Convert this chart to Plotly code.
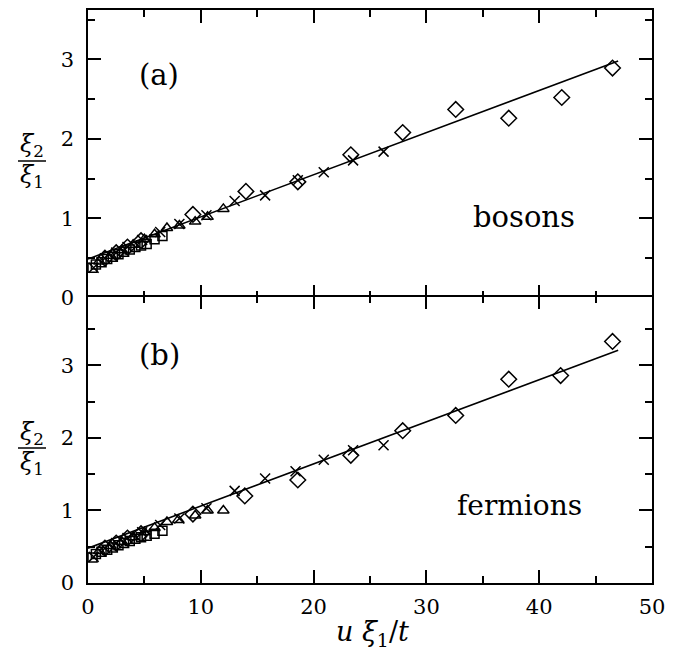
import plotly.graph_objects as go
from plotly.subplots import make_subplots

# ---------------- data: panel (a) bosons ----------------
a_sq_x = [0.4, 0.7, 1.2, 1.7, 2.2, 2.7, 3.2, 3.7, 4.2, 4.7, 5.2, 5.9, 6.6]
a_sq_y = [0.38, 0.42, 0.45, 0.49, 0.52, 0.55, 0.58, 0.61, 0.64, 0.66, 0.68, 0.74, 0.78]
a_x_x = [0.5, 1.5, 2.5, 3.5, 4.8, 6.4, 8.1, 10.5, 13.0, 15.7, 18.6, 20.9, 23.5, 26.2]
a_x_y = [0.38, 0.50, 0.57, 0.64, 0.73, 0.83, 0.93, 1.04, 1.22, 1.29, 1.48, 1.58, 1.73, 1.84]
a_tr_x = [1.0, 2.0, 3.0, 4.0, 5.0, 5.9, 7.0, 8.1, 9.5, 10.6, 12.0]
a_tr_y = [0.46, 0.53, 0.60, 0.67, 0.74, 0.80, 0.88, 0.91, 0.96, 1.02, 1.12]
a_di_x = [1.5, 2.5, 3.5, 4.7, 9.3, 14.0, 18.6, 23.3, 27.9, 32.6, 37.3, 42.0, 46.5]
a_di_y = [0.50, 0.57, 0.64, 0.72, 1.05, 1.34, 1.46, 1.80, 2.08, 2.37, 2.26, 2.52, 2.89]
a_fit_x = [0.0, 47.0]
a_fit_y = [0.49, 2.98]

# ---------------- data: panel (b) fermions ----------------
b_sq_x = [0.4, 0.7, 1.2, 1.7, 2.2, 2.7, 3.2, 3.7, 4.2, 4.7, 5.2, 5.9, 6.6]
b_sq_y = [0.35, 0.40, 0.43, 0.46, 0.49, 0.52, 0.55, 0.58, 0.61, 0.63, 0.65, 0.68, 0.72]
b_x_x = [0.5, 1.5, 2.5, 3.5, 4.8, 6.4, 8.1, 10.5, 13.0, 15.7, 18.4, 20.9, 23.5, 26.2]
b_x_y = [0.36, 0.48, 0.55, 0.62, 0.70, 0.80, 0.89, 1.03, 1.27, 1.44, 1.54, 1.70, 1.83, 1.90]
b_tr_x = [1.0, 2.0, 3.0, 4.0, 5.0, 5.9, 7.0, 8.0, 9.5, 10.6, 12.0]
b_tr_y = [0.44, 0.51, 0.57, 0.63, 0.70, 0.76, 0.84, 0.87, 0.93, 1.00, 1.00]
b_di_x = [1.5, 2.5, 3.5, 4.7, 9.3, 13.9, 18.6, 23.3, 27.9, 32.6, 37.3, 41.9, 46.5]
b_di_y = [0.48, 0.55, 0.62, 0.68, 0.95, 1.20, 1.42, 1.76, 2.10, 2.31, 2.81, 2.86, 3.33]
b_fit_x = [0.0, 47.0]
b_fit_y = [0.48, 3.21]

x_ticks = [0, 10, 20, 30, 40, 50]
y_ticks = [0, 1, 2, 3]

FONT = "DejaVu Serif"

fig = make_subplots(rows=2, cols=1, shared_xaxes=True, vertical_spacing=0)

def add_panel(row, sq_x, sq_y, xx, xy, tr_x, tr_y, di_x, di_y, fx, fy):
    mk = dict(color="black", line=dict(color="black", width=1.5))
    fig.add_trace(go.Scatter(x=fx, y=fy, mode="lines",
                             line=dict(color="black", width=1.6)), row=row, col=1)
    fig.add_trace(go.Scatter(x=sq_x, y=sq_y, mode="markers",
                             marker=dict(symbol="square-open", size=9, **mk)), row=row, col=1)
    fig.add_trace(go.Scatter(x=tr_x, y=tr_y, mode="markers",
                             marker=dict(symbol="triangle-up-open", size=10, **mk)), row=row, col=1)
    fig.add_trace(go.Scatter(x=xx, y=xy, mode="markers",
                             marker=dict(symbol="x-thin-open", size=10, **mk)), row=row, col=1)
    fig.add_trace(go.Scatter(x=di_x, y=di_y, mode="markers",
                             marker=dict(symbol="diamond-open", size=12, **mk)), row=row, col=1)

add_panel(1, a_sq_x, a_sq_y, a_x_x, a_x_y, a_tr_x, a_tr_y, a_di_x, a_di_y, a_fit_x, a_fit_y)
add_panel(2, b_sq_x, b_sq_y, b_x_x, b_x_y, b_tr_x, b_tr_y, b_di_x, b_di_y, b_fit_x, b_fit_y)

LW = 1.5
axis_common = dict(showline=True, linecolor="black", linewidth=LW, mirror="allticks",
                   ticks="inside", ticklen=13, tickwidth=LW, tickcolor="black",
                   showgrid=False, zeroline=False, automargin=False,
                   tickfont=dict(family=FONT, size=21, color="black"))

# the page is drawn with an 8px body offset; positions below are in window pixels
OFF = 8
W, H = 687 - OFF, 654 - OFF
L, R, T, B = 88 - OFF, 35, 10 - OFF, 71
pw, ph = W - L - R, H - T - B

fig.update_xaxes(range=[0, 50], tickvals=x_ticks, ticklabelstandoff=4,
                 minor=dict(dtick=5, ticks="inside", ticklen=7, tickwidth=LW, tickcolor="black"),
                 **axis_common)
fig.update_xaxes(showticklabels=False, row=1, col=1)
fig.update_yaxes(tickvals=y_ticks, ticklabelstandoff=8,
                 minor=dict(dtick=0.5, ticks="inside", ticklen=7, tickwidth=LW, tickcolor="black"),
                 **axis_common)
# let the two shared boundary lines overlap into one
fig.update_yaxes(range=[0, 3.62], domain=[0.5 - LW / ph, 1.0], row=1, col=1)
fig.update_yaxes(range=[0, 3.95], domain=[0.0, 0.5], row=2, col=1)

ann = []
def txt(x, y, s, size):
    ann.append(dict(x=x, y=y, xref="paper", yref="paper", text=s, showarrow=False,
                    font=dict(family=FONT, size=size, color="black"),
                    xanchor="center", yanchor="middle"))

def px(xp):
    return (xp - OFF - L) / pw

def py(yp):
    return (H - B - (yp - OFF)) / ph

txt(px(159), py(75), "(a)", 29)
txt(px(159), py(355), "(b)", 29)
txt(px(524), py(217), "bosons", 29)
txt(px(519), py(505), "fermions", 28)
# y-axis fraction labels
for yc in (161, 448):
    txt(px(32), py(yc - 15), "<i>ξ</i><sub>2</sub>", 24)
    txt(px(32), py(yc + 15), "<i>ξ</i><sub>1</sub>", 24)
# x-axis title
txt(px(372), py(633), "<i>u</i> <i>ξ</i><sub>1</sub>/<i>t</i>", 27)

shapes = []
for yc in (161, 448):
    shapes.append(dict(type="line", xref="paper", yref="paper",
                       x0=px(18), x1=px(46), y0=py(yc), y1=py(yc),
                       line=dict(color="black", width=1.5)))

fig.update_layout(width=W, height=H, margin=dict(l=L, r=R, t=T, b=B),
                  paper_bgcolor="white", plot_bgcolor="white", showlegend=False,
                  annotations=ann, shapes=shapes)

fig.write_html("out.html")
